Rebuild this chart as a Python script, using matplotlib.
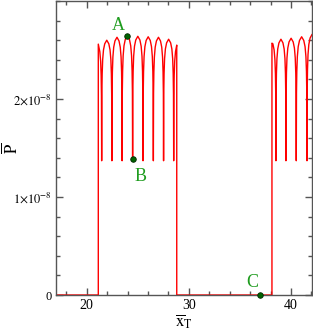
import numpy as np
import matplotlib
matplotlib.use("Agg")
import matplotlib.pyplot as plt
from matplotlib.ticker import MultipleLocator, FixedLocator

plt.rcParams['font.family'] = ['Liberation Serif', 'DejaVu Serif']
plt.rcParams['mathtext.fontset'] = 'stix'

# values (P in units of 1e-8)
cusp_min = 1.37
seg1_start, seg1_end = 21.14, 28.82
seg1_cusps = [21.47, 22.47, 23.47, 24.50, 25.52, 26.53, 27.53, 28.52]
seg1_peaks = [2.60, 2.63, 2.645, 2.64, 2.635, 2.63, 2.61]
seg1_edge_vals = [2.56, 2.55]          # height at the vertical jumps
seg2_start = 38.14
seg2_cusps = [38.53, 39.51, 40.52, 41.57]
seg2_peaks = [2.61, 2.62, 2.635]
seg2_edge_vals = [2.57, 2.64]          # height at jump / at right border
x_min, x_max = 17.0, 42.06

# shape of one arch between two cusps (fraction of width, fraction of height)
arch_frac = [0, 0.02, 0.05, 0.1, 0.18, 0.3, 0.5, 0.7, 0.82, 0.9, 0.95, 0.98, 1]
arch_shape = [0, 0.55, 0.72, 0.84, 0.92, 0.97, 1, 0.97, 0.92, 0.84, 0.72, 0.55, 0]

points = {"A": (23.97, 2.645), "B": (24.50, 1.39), "C": (36.99, 0.0)}
label_pos = {"A": (23.1, 2.66), "B": (25.25, 1.12), "C": (36.25, 0.04)}


def arches(cusps, peaks):
    xs, ys = [], []
    for c0, c1, h in zip(cusps[:-1], cusps[1:], peaks):
        for f, s in zip(arch_frac, arch_shape):
            xs.append(c0 + f * (c1 - c0))
            ys.append(cusp_min + s * (h - cusp_min))
    return xs, ys


def half_arch(c, width, h, lo, hi):
    # partial arch next to a cusp, keeping only the part inside [lo, hi]
    xs, ys = [], []
    for f, s in zip(arch_frac, arch_shape):
        xx = c + f * width
        if lo <= xx <= hi:
            xs.append(xx)
            ys.append(cusp_min + s * (h - cusp_min))
    return xs, ys


x = [x_min, seg1_start, seg1_start]
y = [0, 0, seg1_edge_vals[0]]
hx, hy = half_arch(seg1_cusps[0] - 1.0, 1.0, 2.58, seg1_start + 1e-3, seg1_cusps[0] - 1e-3)
x += hx; y += hy
ax_, ay_ = arches(seg1_cusps, seg1_peaks)
x += ax_; y += ay_
hx, hy = half_arch(seg1_cusps[-1], 1.0, 2.58, seg1_cusps[-1] + 1e-3, seg1_end - 1e-3)
x += hx; y += hy
x += [seg1_end, seg1_end, seg2_start, seg2_start]
y += [seg1_edge_vals[1], 0, 0, seg2_edge_vals[0]]
hx, hy = half_arch(seg2_cusps[0] - 1.0, 1.0, 2.60, seg2_start + 1e-3, seg2_cusps[0] - 1e-3)
x += hx; y += hy
ax_, ay_ = arches(seg2_cusps, seg2_peaks)
x += ax_; y += ay_
hx, hy = half_arch(seg2_cusps[-1], 1.0, 2.66, seg2_cusps[-1] + 1e-3, x_max + 0.5)
x += hx; y += hy

x = np.array(x)
y = np.array(y) * 1e-8

fig = plt.figure(figsize=(3.13, 3.33), dpi=100)
ax = fig.add_axes([56 / 313, 1 - 295 / 333, 256 / 313, 294 / 333])

ax.plot(x, y, color='#ff0000', lw=1.0)

for k, (px, py) in points.items():
    ax.plot(px, py * 1e-8, 'o', ms=4, mfc='#006400', mec='#002800', mew=0.6,
            clip_on=False, zorder=5)
    lx, ly = label_pos[k]
    ax.text(lx, ly * 1e-8, k, color='#1f9c1f', fontsize=13, ha='center', va='bottom')

ax.set_xlim(x_min, x_max)
ax.set_ylim(0, 3e-8)
ax.xaxis.set_major_locator(FixedLocator([20, 30, 40]))
ax.xaxis.set_minor_locator(MultipleLocator(2))
ax.yaxis.set_major_locator(FixedLocator([0, 1e-8, 2e-8]))
ax.yaxis.set_minor_locator(MultipleLocator(0.2e-8))
ax.set_xticklabels(['20', '30', '40'])
ax.set_yticklabels(['0', r'$1{\times}10^{-8}$', r'$2{\times}10^{-8}$'])

spine_col = '#555555'
for s in ax.spines.values():
    s.set_color(spine_col)
    s.set_linewidth(1.0)
ax.tick_params(which='both', direction='in', top=True, right=True,
               color=spine_col, width=1.0, labelsize=10, labelcolor='black')
ax.tick_params(axis='y', labelsize=9)
ax.tick_params(which='major', length=5, pad=3)
ax.tick_params(which='minor', length=3)

ax.set_xlabel(r'$\overline{\mathrm{x}}_{\mathrm{T}}$', fontsize=12, labelpad=0)
ax.set_ylabel(r'$\overline{\mathrm{P}}$', fontsize=12)
ax.yaxis.set_label_coords(-0.135, 0.5)

fig.savefig('out.png', dpi=100)
